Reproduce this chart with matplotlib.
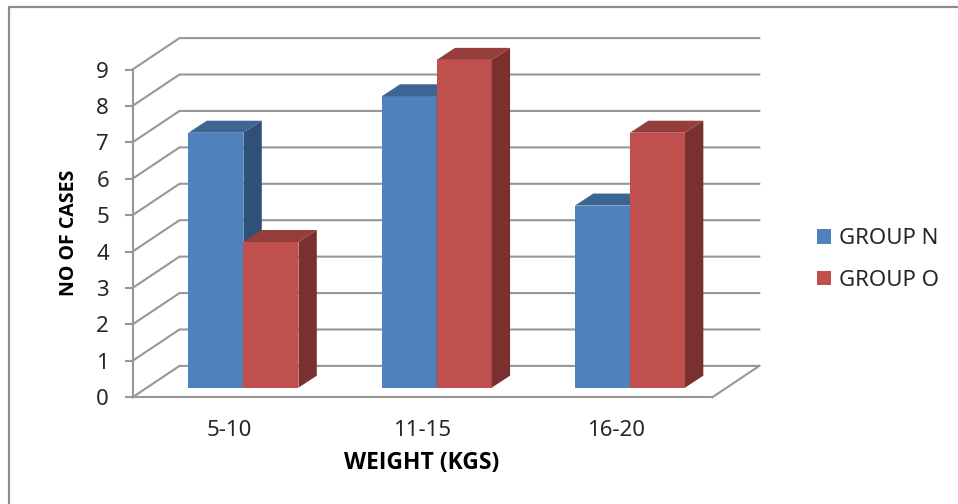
#!/usr/bin/env python3

import matplotlib
matplotlib.use('Agg')
import matplotlib.pyplot as plt
from matplotlib.patches import Polygon

categories = ['5-10', '11-15', '16-20']
group_n = [7, 8, 5]
group_o = [4, 9, 7]
y_ticks = [0, 1, 2, 3, 4, 5, 6, 7, 8, 9]

W, H = 958, 504
GRAY = '#979797'
TXT = '#262626'

# fake 3d depth, in data units
wall_dx, wall_dy = 0.243, 0.862
bar_dx, bar_dy = 0.095, 0.33
floor_y = 0.264
bar_w = 0.2846
group_mid = 0.574

plt.rcParams['font.family'] = ['Noto Sans', 'DejaVu Sans']

fig = plt.figure(figsize=(W / 100, H / 100), dpi=100)
ax = fig.add_axes([132.5 / W, 1 - 397.3 / H, 579.8 / W, 327.8 / H])
ax.set_xlim(0, 3)
ax.set_ylim(0, 9)
ax.patch.set_visible(False)

# outer frame, only left and top are visible in the picture
fig.add_artist(plt.Line2D([8.5 / W, 8.5 / W, 1], [0, 1 - 6.5 / H, 1 - 6.5 / H],
                          color='#8c8c8c', lw=1.6, transform=fig.transFigure))

# walls
for t in y_ticks:
    ax.plot([0, wall_dx, 3 + wall_dx], [t, t + wall_dy, t + wall_dy],
            color=GRAY, lw=1.5, clip_on=False, zorder=1, solid_joinstyle='miter')
ax.plot([3, 3 + wall_dx], [0, wall_dy], color=GRAY, lw=1.5, clip_on=False, zorder=1)


def draw_bar(x, val, front, top, side, label=None):
    y0 = floor_y
    y1 = floor_y + val
    ax.bar(x, val, bar_w, bottom=y0, align='edge', color=front, lw=0, zorder=3,
           clip_on=False, label=label)
    ax.add_patch(Polygon([(x, y1), (x + bar_dx, y1 + bar_dy),
                          (x + bar_w + bar_dx, y1 + bar_dy), (x + bar_w, y1)],
                         fc=top, lw=0, zorder=3, clip_on=False))
    ax.add_patch(Polygon([(x + bar_w, y0), (x + bar_w + bar_dx, y0 + bar_dy),
                          (x + bar_w + bar_dx, y1 + bar_dy), (x + bar_w, y1)],
                         fc=side, lw=0, zorder=3, clip_on=False))


for i in range(len(categories)):
    draw_bar(i + group_mid - bar_w, group_n[i], '#4f81bd', '#3d6592', '#2f5078',
             label='GROUP N' if i == 0 else None)
    draw_bar(i + group_mid, group_o[i], '#c0504d', '#953e3c', '#7a302f',
             label='GROUP O' if i == 0 else None)

for s in ['top', 'right']:
    ax.spines[s].set_visible(False)
for s in ['left', 'bottom']:
    ax.spines[s].set_color(GRAY)
    ax.spines[s].set_linewidth(1.5)
    ax.spines[s].set_zorder(2)

ax.set_yticks(y_ticks)
ax.set_xticks([i + 0.5 for i in range(3)])
ax.set_xticklabels(categories)
ax.tick_params(axis='y', length=6, width=1.5, color=GRAY, labelsize=16, labelcolor=TXT, pad=11)
ax.tick_params(axis='x', length=0, labelsize=16, labelcolor=TXT, pad=16)

fig.text(69.5 / W, 1 - 233 / H, 'NO OF CASES', rotation=90, fontsize=14, fontweight='bold',
         family=['Open Sans', 'DejaVu Sans'], color='black', ha='center', va='center')
fig.text(421.5 / W, 1 - 463 / H, 'WEIGHT (KGS)', fontsize=16.5, fontweight='bold',
         family=['Open Sans', 'DejaVu Sans'], color='black', ha='center', va='center')

# bar labels feed the legend
leg = ax.legend(loc='upper left', bbox_to_anchor=(817 / W, 1 - 228 / H),
                bbox_transform=fig.transFigure, frameon=False, fontsize=16,
                labelcolor=TXT, borderpad=0, borderaxespad=0, handlelength=0.64,
                handleheight=0.64, handletextpad=0.33, labelspacing=0.93)

fig.savefig('out.png', dpi=100)
